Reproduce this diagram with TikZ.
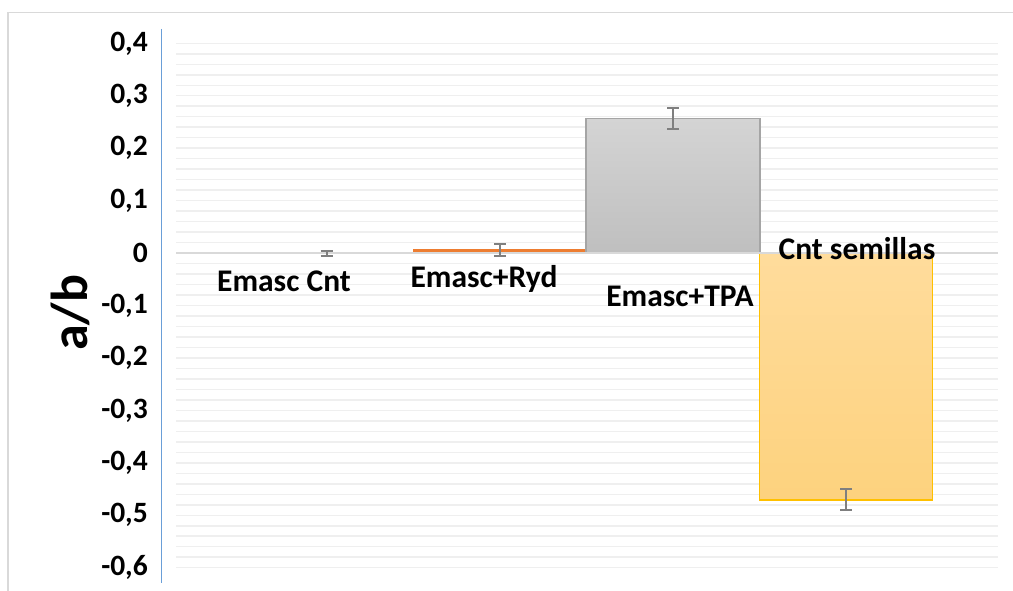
\documentclass[tikz,border=0pt]{standalone}
\usepackage{fontspec}
\setmainfont{Carlito}
\definecolor{gridc}{HTML}{EFEFEF}
\definecolor{framec}{HTML}{D9D9D9}
\definecolor{zeroc}{HTML}{D9D9D9}
\definecolor{axisc}{HTML}{6A9FD8}
\definecolor{errc}{HTML}{7F7F7F}
\definecolor{orangec}{HTML}{ED7D31}
\definecolor{graytop}{HTML}{D4D4D4}
\definecolor{graybot}{HTML}{BFBFBF}
\definecolor{grayedge}{HTML}{A5A5A5}
\definecolor{goldtop}{HTML}{FFDC9C}
\definecolor{goldbot}{HTML}{FDD27E}
\definecolor{goldedge}{HTML}{FFC000}
\tikzset{
  gridline/.style={gridc,line width=1.5pt},
  ticklabel/.style={anchor=east,font=\fontsize{29.5}{32}\selectfont\bfseries,inner sep=0pt},
  catlabel/.style={font=\fontsize{31.5}{34}\selectfont\bfseries,inner sep=0pt},
  errbar/.style={errc,line width=2pt},
}
\newcommand{\errorbar}[3]{%
  \draw[errbar] (#1,#2) -- (#1,#3);
  \draw[errbar] ({#1-6},#2) -- ({#1+6},#2);
  \draw[errbar] ({#1-6},#3) -- ({#1+6},#3);}
\begin{document}
\begin{tikzpicture}[x=1pt,y=-1pt]
\useasboundingbox (0,0) rectangle (1013,591);
\fill[white] (0,0) rectangle (1013,591);
% outer frame
\draw[framec,line width=1.5pt] (8,591) -- (8,12.5) -- (1013,12.5);
% grid
\foreach \i in {0,...,50} {
  \draw[gridline] (176,{43.3+\i*10.488}) -- (998,{43.3+\i*10.488});
}
% bars
\draw[orangec,fill=orangec,line width=1pt] (413.3,249.5) rectangle (586,252.5);
\shade[top color=graytop,bottom color=graybot] (586,118.7) rectangle (760,253.1);
\draw[grayedge,line width=1.5pt] (586,253.1) -- (586,118.7) -- (760,118.7) -- (760,253.1);
\shade[top color=goldtop,bottom color=goldbot] (759.3,253.1) rectangle (932.7,500);
\draw[goldedge,line width=1.5pt] (759.3,253.1) -- (759.3,500) -- (932.7,500) -- (932.7,253.1);
% zero line
\draw[zeroc,line width=1.5pt] (176,253.1) -- (998,253.1);
% y axis line
\draw[axisc,line width=1pt] (161.7,29) -- (161.7,583);
% error bars
\errorbar{326.7}{250.5}{255.5}
\errorbar{500}{244.3}{256}
\errorbar{673}{108}{129.3}
\errorbar{846}{489}{510.3}
% tick labels
\foreach \v/\t in {0.4/{0,4},0.3/{0,3},0.2/{0,2},0.1/{0,1},0/0,-0.1/{-0,1},-0.2/{-0,2},-0.3/{-0,3},-0.4/{-0,4},-0.5/{-0,5},-0.6/{-0,6}} {
  \node[ticklabel] at (148,{253.1-\v*524.4}) {\t};
}
% axis title
\node[rotate=90,font=\fontsize{52}{56}\selectfont\bfseries,inner sep=0pt] (ytitle) at (70,313) {a/b};
% category labels
\node[catlabel] (c1) at (284,281) {Emasc Cnt};
\node[catlabel] (c2) at (484,279) {Emasc+Ryd};
\node[catlabel] (c3) at (680,296) {Emasc+TPA};
\node[catlabel] (c4) at (857,249) {Cnt semillas};
\end{tikzpicture}
\end{document}
